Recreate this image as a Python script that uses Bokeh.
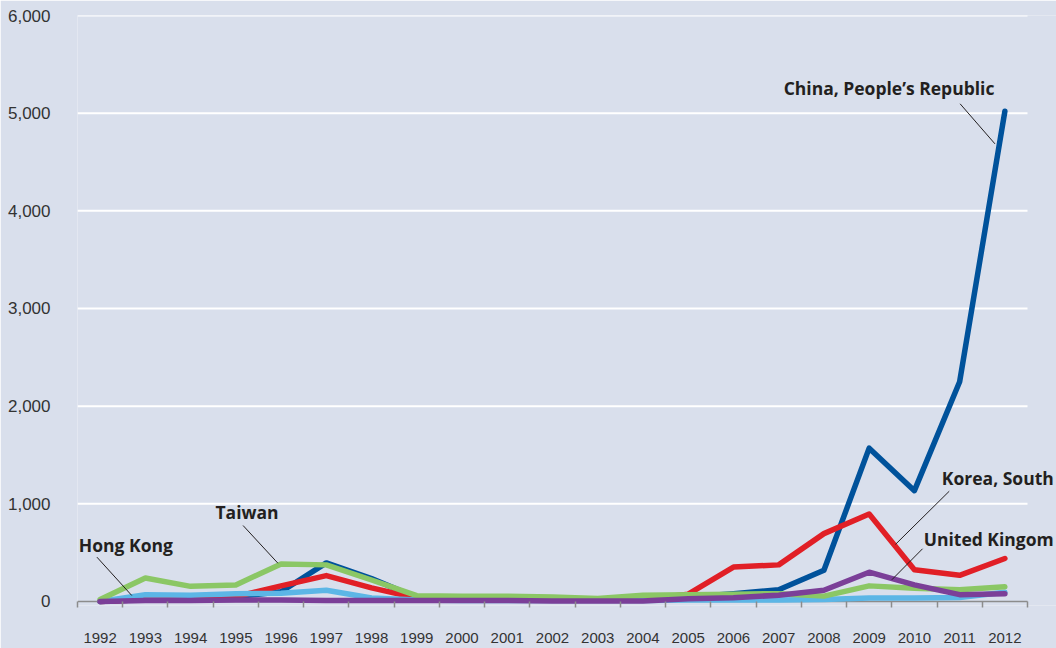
from bokeh.plotting import figure
from bokeh.models import Range1d, FixedTicker, NumeralTickFormatter, Label
from bokeh.embed import file_html
from bokeh.resources import INLINE

years = list(range(1992, 2013))
china = [0, 20, 30, 50, 100, 395, 235, 40, 20, 20, 15, 15, 15, 45, 80, 120, 320, 1570, 1135, 2250, 5020]
korea = [0, 20, 20, 50, 160, 265, 140, 35, 30, 30, 25, 20, 20, 75, 352, 375, 695, 895, 325, 268, 440]
hongkong = [0, 70, 65, 80, 85, 115, 35, 15, 10, 10, 10, 10, 10, 15, 15, 15, 20, 35, 35, 40, 95]
taiwan = [20, 240, 155, 170, 385, 375, 220, 60, 55, 55, 45, 30, 65, 70, 75, 80, 55, 160, 135, 120, 150]
uk = [0, 10, 10, 15, 15, 10, 10, 10, 10, 10, 5, 5, 5, 28, 38, 65, 115, 300, 170, 70, 80]

y_ticks = [0, 1000, 2000, 3000, 4000, 5000, 6000]

# annotation labels: text, x (year units), y (value units), alignment
label_texts = ["Hong Kong", "Taiwan", "China, People\u2019s Republic", "Korea, South", "United Kingom"]
label_x = [1991.53, 1994.55, 2007.11, 2013.08, 2013.08]
label_y = [583, 921, 5255, 1262, 640]
label_align = ["left", "left", "left", "right", "right"]
# leader lines (from label to series)
lead_x0 = [1991.93, 1995.16, 2011.01, 2010.77, 2010.18]
lead_y0 = [454, 778, 5096, 1129, 540]
lead_x1 = [1992.70, 1995.93, 2011.78, 2009.58, 2009.50]
lead_y1 = [61, 392, 4686, 584, 222]

BG = "#d9dfec"
x_start = years[0] - 0.5
x_end = years[-1] + 0.5

p = figure(width=1056, height=648, output_backend="svg", toolbar_location=None,
           x_range=Range1d(x_start, x_end + 29 / 45.238), y_range=Range1d(-40.96, 6000),
           min_border_left=77, min_border_right=0, min_border_top=15, min_border_bottom=43)
p.background_fill_color = BG
p.border_fill_color = BG
p.outline_line_color = None

# y axis
p.yaxis.ticker = FixedTicker(ticks=y_ticks)
p.yaxis.formatter = NumeralTickFormatter(format="0,0")
p.yaxis.axis_line_color = None
p.yaxis.major_tick_line_color = None
p.yaxis.minor_tick_line_color = None
p.yaxis.major_label_standoff = 21
p.yaxis.major_label_text_font = "Liberation Sans"
p.yaxis.major_label_text_font_size = "17px"
p.yaxis.major_label_text_color = "#333333"

# x axis
minor = [y - 0.5 for y in years] + [years[-1] + 0.5]
p.xaxis.ticker = FixedTicker(ticks=years, minor_ticks=minor)
p.xaxis.axis_line_color = None
p.xaxis.major_tick_line_color = None
p.xaxis.minor_tick_line_color = "#8c8c8c"
p.xaxis.minor_tick_line_width = 1.5
p.xaxis.minor_tick_in = 4
p.xaxis.minor_tick_out = 2
p.xaxis.major_label_standoff = 21
p.xaxis.major_label_text_font = "Liberation Sans"
p.xaxis.major_label_text_font_size = "15px"
p.xaxis.major_label_text_color = "#333333"

p.xgrid.grid_line_color = None
p.ygrid.grid_line_color = None

# horizontal grid lines limited to the category span
grid_vals = y_ticks[1:]
p.segment(x0=[x_start] * len(grid_vals), y0=grid_vals, x1=[x_end] * len(grid_vals), y1=grid_vals,
          line_color="white", line_width=2)
# baseline axis line
p.segment(x0=[x_start], y0=[0], x1=[x_end], y1=[0], line_color="#8c8c8c", line_width=1.5)

series = [(china, "#00529b"), (korea, "#e11f26"), (hongkong, "#5cb6e6"),
          (taiwan, "#8bc765"), (uk, "#7b3f98")]
for vals, col in series:
    p.line(years, vals, line_color=col, line_width=5.5, line_cap="round", line_join="round")

p.segment(x0=lead_x0, y0=lead_y0, x1=lead_x1, y1=lead_y1, line_color="#231f20", line_width=1)

for t, x, y, a in zip(label_texts, label_x, label_y, label_align):
    p.add_layout(Label(x=x, y=y, text=t, text_align=a, text_baseline="middle",
                       text_font="Open Sans", text_font_style="bold", text_font_size="17.5px",
                       text_color="#231f20"))

open("out.html", "w").write(file_html(p, INLINE))
